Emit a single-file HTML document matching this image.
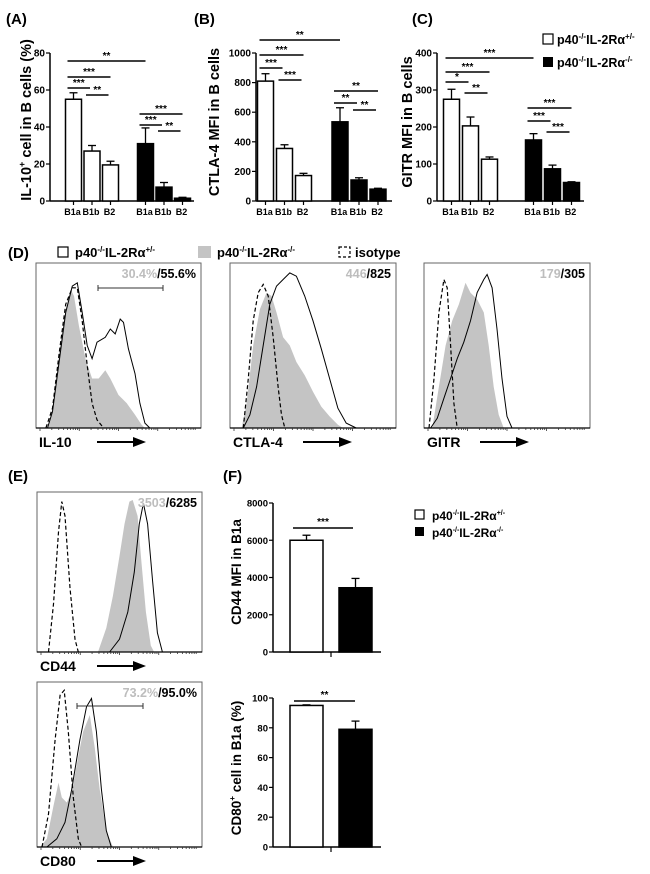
<!DOCTYPE html>
<html><head><meta charset="utf-8"><style>
html,body{margin:0;padding:0;background:#fff}
svg{display:block;font-family:"Liberation Sans",Arial,sans-serif;font-weight:bold}
</style></head><body>
<svg id="fig" width="650" height="874" viewBox="0 0 650 874" xmlns="http://www.w3.org/2000/svg">
<g font-size="15">
<text x="6" y="24">(A)</text>
<text x="194" y="24">(B)</text>
<text x="412" y="24">(C)</text>
<text x="8" y="258">(D)</text>
<text x="8" y="481">(E)</text>
<text x="223" y="481">(F)</text>
</g>
<g font-size="12.5">
<rect x="543" y="34" width="10" height="10" fill="#fff" stroke="#000" stroke-width="1.2"/>
<text x="557" y="44">p40<tspan font-size="8" dy="-5">-/-</tspan><tspan dy="5">IL-2Rα</tspan><tspan font-size="8" dy="-5">+/-</tspan></text>
<rect x="543" y="57" width="10" height="10" fill="#000"/>
<text x="557" y="67">p40<tspan font-size="8" dy="-5">-/-</tspan><tspan dy="5">IL-2Rα</tspan><tspan font-size="8" dy="-5">-/-</tspan></text>
</g>
<g font-size="13">
<rect x="58" y="247" width="10" height="10" fill="#fff" stroke="#000" stroke-width="1.2"/>
<text x="75" y="257">p40<tspan font-size="8" dy="-5">-/-</tspan><tspan dy="5">IL-2Rα</tspan><tspan font-size="8" dy="-5">+/-</tspan></text>
<rect x="198" y="246" width="13" height="12" fill="#c4c4c4"/>
<text x="217" y="257">p40<tspan font-size="8" dy="-5">-/-</tspan><tspan dy="5">IL-2Rα</tspan><tspan font-size="8" dy="-5">-/-</tspan></text>
<rect x="339" y="247" width="11" height="10" fill="none" stroke="#000" stroke-width="1.2" stroke-dasharray="3,2"/>
<text x="355" y="257">isotype</text>
</g>
<g font-size="12">
<rect x="415" y="510" width="9" height="9" fill="#fff" stroke="#000" stroke-width="1.2"/>
<text x="432" y="520">p40<tspan font-size="7" dy="-5">-/-</tspan><tspan dy="5">IL-2Rα</tspan><tspan font-size="7" dy="-5">+/-</tspan></text>
<rect x="415" y="527" width="9" height="9" fill="#000"/>
<text x="432" y="537">p40<tspan font-size="7" dy="-5">-/-</tspan><tspan dy="5">IL-2Rα</tspan><tspan font-size="7" dy="-5">-/-</tspan></text>
</g>
<g id="charts"></g>
</svg>
<script>
// ---- data: bar charts ----
const groupCats = ["B1a","B1b","B2"];
const aHet = [55, 27, 19.5];
const aHetErr = [58.5, 30, 21.5];
const aKo = [31, 7.5, 1.5];
const aKoErr = [39.5, 10, 2];
const aTicks = [0,20,40,60,80];
const bHet = [810, 355, 172];
const bHetErr = [860, 380, 187];
const bKo = [535, 142, 80];
const bKoErr = [630, 157, 86];
const bTicks = [0,200,400,600,800,1000];
const cHet = [275, 203, 113];
const cHetErr = [302, 227, 119];
const cKo = [165, 87, 50];
const cKoErr = [182, 97, 52];
const cTicks = [0,100,200,300,400];
const fCats = ["het","ko"];
const fCd44 = [6000, 3450];
const fCd44Err = [6270, 3950];
const fCd44Ticks = [0,2000,4000,6000,8000];
const fCd80 = [95, 79];
const fCd80Err = [95.4, 84.5];
const fCd80Ticks = [0,20,40,60,80,100];
const aSig = [[0,3,"**"],[0,2,"***"],[0,1,"***"],[1,2,"**"],[3,5,"***"],[3,4,"***"],[4,5,"**"]];
const bSig = [[0,3,"**"],[0,2,"***"],[0,1,"***"],[1,2,"***"],[3,5,"**"],[3,4,"**"],[4,5,"**"]];
const cSig = [[0,3,"***"],[0,2,"***"],[0,1,"*"],[1,2,"**"],[3,5,"***"],[3,4,"***"],[4,5,"***"]];
// ---- data: histograms (x = fraction of log axis, y = fraction of max) ----
const il10Ko = [[0.07,0],[0.1,0.1],[0.14,0.45],[0.18,0.72],[0.21,0.84],[0.23,0.8],[0.26,0.62],[0.3,0.42],[0.34,0.3],[0.38,0.3],[0.42,0.35],[0.45,0.3],[0.5,0.2],[0.55,0.15],[0.6,0.08],[0.64,0.02],[0.66,0]];
const il10Het = [[0.07,0],[0.1,0.1],[0.14,0.4],[0.18,0.7],[0.22,0.86],[0.25,0.88],[0.28,0.7],[0.31,0.5],[0.34,0.42],[0.37,0.52],[0.42,0.55],[0.45,0.6],[0.48,0.57],[0.51,0.66],[0.53,0.64],[0.56,0.48],[0.6,0.33],[0.63,0.15],[0.66,0.03],[0.69,0]];
const il10Iso = [[0.06,0],[0.1,0.12],[0.14,0.45],[0.18,0.75],[0.22,0.85],[0.25,0.85],[0.28,0.65],[0.31,0.38],[0.34,0.15],[0.37,0.05],[0.41,0]];
const ctlaKo = [[0.07,0],[0.1,0.15],[0.14,0.5],[0.18,0.72],[0.22,0.82],[0.25,0.8],[0.28,0.7],[0.32,0.55],[0.36,0.5],[0.4,0.4],[0.45,0.32],[0.5,0.22],[0.55,0.13],[0.6,0.07],[0.65,0.02],[0.68,0]];
const ctlaHet = [[0.08,0],[0.12,0.08],[0.16,0.25],[0.2,0.5],[0.24,0.75],[0.28,0.86],[0.32,0.9],[0.36,0.94],[0.4,0.92],[0.45,0.8],[0.5,0.65],[0.55,0.48],[0.6,0.3],[0.65,0.12],[0.7,0.03],[0.76,0]];
const ctlaIso = [[0.08,0],[0.11,0.3],[0.14,0.65],[0.17,0.82],[0.2,0.87],[0.23,0.8],[0.26,0.55],[0.29,0.25],[0.31,0.08],[0.33,0]];
const gitrKo = [[0.05,0],[0.09,0.25],[0.13,0.5],[0.17,0.65],[0.21,0.75],[0.25,0.88],[0.28,0.82],[0.32,0.78],[0.36,0.7],[0.39,0.5],[0.42,0.25],[0.45,0.08],[0.48,0]];
const gitrHet = [[0.04,0],[0.08,0.06],[0.12,0.18],[0.16,0.3],[0.2,0.42],[0.24,0.52],[0.28,0.65],[0.32,0.82],[0.36,0.9],[0.38,0.93],[0.41,0.85],[0.44,0.6],[0.47,0.3],[0.5,0.07],[0.53,0]];
const gitrIso = [[0.03,0],[0.06,0.3],[0.09,0.7],[0.12,0.9],[0.14,0.85],[0.16,0.5],[0.18,0.15],[0.2,0]];
const cd44Ko = [[0.37,0],[0.42,0.15],[0.46,0.35],[0.5,0.6],[0.53,0.8],[0.56,0.94],[0.58,0.95],[0.61,0.85],[0.63,0.6],[0.66,0.25],[0.69,0.04],[0.71,0]];
const cd44Het = [[0.44,0],[0.5,0.08],[0.55,0.25],[0.59,0.5],[0.62,0.8],[0.645,0.93],[0.67,0.8],[0.7,0.45],[0.73,0.12],[0.76,0]];
const cd44Iso = [[0.07,0],[0.1,0.3],[0.13,0.75],[0.15,0.94],[0.17,0.85],[0.2,0.4],[0.23,0.08],[0.25,0]];
const cd80Ko = [[0.02,0],[0.06,0.05],[0.1,0.25],[0.13,0.39],[0.15,0.3],[0.18,0.27],[0.21,0.33],[0.25,0.55],[0.28,0.7],[0.32,0.8],[0.35,0.6],[0.38,0.35],[0.42,0.1],[0.46,0]];
const cd80Het = [[0.06,0],[0.12,0.05],[0.17,0.15],[0.21,0.35],[0.26,0.65],[0.3,0.85],[0.33,0.9],[0.36,0.7],[0.39,0.35],[0.42,0.1],[0.45,0]];
const cd80Iso = [[0.03,0],[0.07,0.2],[0.11,0.65],[0.14,0.92],[0.165,0.95],[0.19,0.7],[0.22,0.3],[0.25,0.05],[0.27,0]];

const NS = "http://www.w3.org/2000/svg";
const root = document.getElementById("charts");
function mk(tag, attrs, parent){
  const el = document.createElementNS(NS, tag);
  for (const k in attrs) el.setAttribute(k, attrs[k]);
  (parent||root).appendChild(el);
  return el;
}

function barChart(o){
  const g = mk("g", {});
  
  
  const yS = v => o.y0 - (v / o.max) * (o.y0 - o.yTop);
  const ya = mk("line", {x1:o.ax, x2:o.ax, y1:o.yTop, y2:o.y0, stroke:"#000", "stroke-width":1.5}, g);
  
  
  const xa = mk("line", {x1:o.ax, x2:o.axEnd, y1:o.y0, y2:o.y0, stroke:"#000", "stroke-width":1.5}, g);
  
  
  o.ticks.forEach(t => {
    const y = yS(t);
    mk("line", {x1:o.ax-4, x2:o.ax, y1:y, y2:y, stroke:"#000", "stroke-width":1.2}, g);
    const tl = mk("text", {x:o.ax-5, y:y+3.5, "text-anchor":"end", "font-size":o.tickSize||10}, g);
    tl.textContent = t;
    
    
  });
  const lab = mk("text", {transform:`translate(${o.labX},${o.labY}) rotate(-90)`, "text-anchor":"middle", "font-size":o.labSize||15}, g);
  lab.innerHTML = o.label;
  
  
  const centers = [];
  o.series.forEach((s, si) => {
    s.vals.forEach((v, i) => {
      const cx = o.x0 + si * o.groupStep + i * o.step;
      centers.push(cx);
      const top = yS(v);
      const e = mk("line", {x1:cx, x2:cx, y1:yS(s.err[i]), y2:top, stroke:"#000", "stroke-width":1.3}, g);
      
      
      mk("line", {x1:cx-4, x2:cx+4, y1:yS(s.err[i]), y2:yS(s.err[i]), stroke:"#000", "stroke-width":1.3}, g);
      const r = mk("rect", {x:cx-o.bw/2, y:top, width:o.bw, height:o.y0-top, fill:s.fill, stroke:"#000", "stroke-width":1.5}, g);
      
      
      if (o.cats.length > 1) {
        mk("line", {x1:cx, x2:cx, y1:o.y0, y2:o.y0+4, stroke:"#000", "stroke-width":1.2}, g);
        const cl = mk("text", {x:cx-1, y:o.y0+14, "text-anchor":"middle", "font-size":9}, g);
        cl.textContent = o.cats[i];
        
        
      }
    });
  });
  if (o.cats.length <= 1) {
    const mid = (centers[0] + centers[centers.length-1]) / 2;
    mk("line", {x1:mid, x2:mid, y1:o.y0, y2:o.y0+5, stroke:"#000", "stroke-width":1.2}, g);
  }
  o.sig.forEach((s, k) => {
    const y = o.sigY[k];
    const x1 = centers[s[0]] - o.bw/2 + 2, x2 = centers[s[1]] + (s[1]-s[0]>1 ? 0 : -2);
    const l = mk("line", {x1:x1, x2:x2, y1:y, y2:y, stroke:"#000", "stroke-width":1.5}, g);
    
    
    const st = mk("text", {x:(x1+x2)/2, y:y-2, "text-anchor":"middle", "font-size":10}, g);
    st.textContent = s[2];
    
    
  });
}

barChart({name:"chart-a", ax:50, axEnd:194, y0:201, yTop:53, max:80, ticks:aTicks, cats:groupCats,
  x0:73.5, step:18.5, groupStep:72, bw:16, label:"IL-10<tspan font-size='9' dy='-6'>+</tspan><tspan dy='6'> cell in B cells (%)</tspan>", labX:31, labY:120, labSize:14.5,
  series:[{key:"het", vals:aHet, err:aHetErr, fill:"#fff"},{key:"ko", vals:aKo, err:aKoErr, fill:"#000"}],
  sig:aSig, sigY:[61,77,88,95,114,125,131]});
barChart({name:"chart-b", ax:256, axEnd:392, y0:201, yTop:53, max:1000, ticks:bTicks, cats:groupCats,
  x0:265.5, step:19, groupStep:74.5, bw:16, label:"CTLA-4 MFI in B cells", labX:219, labY:122, labSize:14.5,
  series:[{key:"het", vals:bHet, err:bHetErr, fill:"#fff"},{key:"ko", vals:bKo, err:bKoErr, fill:"#000"}],
  sig:bSig, sigY:[40,55,68,80,91,103,110]});
barChart({name:"chart-c", ax:437, axEnd:584, y0:201, yTop:53, max:400, ticks:cTicks, cats:groupCats,
  x0:451.5, step:19, groupStep:82, bw:16, label:"GITR MFI in B cells", labX:412, labY:122, labSize:14.5,
  series:[{key:"het", vals:cHet, err:cHetErr, fill:"#fff"},{key:"ko", vals:cKo, err:cKoErr, fill:"#000"}],
  sig:cSig, sigY:[58,72,82,93,108,121,132]});
barChart({name:"chart-f-cd44", ax:273, axEnd:381, y0:652, yTop:503, max:8000, ticks:fCd44Ticks, cats:["B1a"],
  x0:306.5, step:0, groupStep:49, bw:33, label:"CD44  MFI in B1a", labX:241, labY:572, labSize:13.5, tickSize:9.5,
  series:[{key:"het", vals:[fCd44[0]], err:[fCd44Err[0]], fill:"#fff"},{key:"ko", vals:[fCd44[1]], err:[fCd44Err[1]], fill:"#000"}],
  sig:[], sigY:[]});
barChart({name:"chart-f-cd80", ax:273, axEnd:381, y0:847, yTop:698, max:100, ticks:fCd80Ticks, cats:["B1a"],
  x0:306.5, step:0, groupStep:49, bw:33, label:"CD80<tspan font-size='8' dy='-6'>+</tspan><tspan dy='6'> cell  in B1a (%)</tspan>", labX:241, labY:768, labSize:13.5, tickSize:9.5,
  series:[{key:"het", vals:[fCd80[0]], err:[fCd80Err[0]], fill:"#fff"},{key:"ko", vals:[fCd80[1]], err:[fCd80Err[1]], fill:"#000"}],
  sig:[], sigY:[]});
[[528,"***",293,353],[701,"**",294,355]].forEach(s => {
  const l = mk("line", {x1:s[2], x2:s[3], y1:s[0], y2:s[0], stroke:"#000", "stroke-width":1.5});
  
  
  const t = mk("text", {x:(s[2]+s[3])/2, y:s[0]-3, "text-anchor":"middle", "font-size":10});
  t.textContent = s[1];
  
  
});

function histo(o){
  const g = mk("g", {});
  
  
  const h = o.bottom - o.top, w = o.right - o.left;
  const X = f => o.left + f * w, Y = f => o.bottom - f * h;
  const path = (pts) => pts.map((p,i) => (i?"L":"M") + X(p[0]).toFixed(1) + "," + Y(p[1]).toFixed(1)).join(" ");
  const gray = mk("path", {d:path(o.ko) + " Z", fill:"#c4c4c4", stroke:"none"}, g);
  
  
  const iso = mk("path", {d:path(o.iso), fill:"none", stroke:"#000", "stroke-width":1.2, "stroke-dasharray":"4,2.5"}, g);
  
  
  const het = mk("path", {d:path(o.het), fill:"none", stroke:"#000", "stroke-width":1}, g);
  
  
  const box = mk("rect", {x:o.left, y:o.top, width:w, height:h, fill:"none", stroke:"#666", "stroke-width":1}, g);
  
  
  mk("line", {x1:o.left, x2:o.right, y1:o.bottom, y2:o.bottom, stroke:"#000", "stroke-width":1.2}, g);
  for (let d = 0; d < 4; d++) {
    for (let m = 1; m <= 9; m++) {
      const f = (d + Math.log10(m)) / 4;
      const x = o.left + 4 + f * (w - 8);
      mk("line", {x1:x, x2:x, y1:o.bottom, y2:o.bottom + (m===1?3:2), stroke:"#333", "stroke-width":0.8}, g);
    }
  }
  const ann = mk("text", {x:o.right-5, y:o.top+15, "text-anchor":"end", "font-size":12.5}, g);
  ann.innerHTML = `<tspan fill="#bdbdbd">${o.annGray}</tspan>/${o.annBlack}`;
  
  
  if (o.gate) {
    const gy = o.gate[2];
    mk("line", {x1:o.gate[0], x2:o.gate[1], y1:gy, y2:gy, stroke:"#333", "stroke-width":1}, g);
    mk("line", {x1:o.gate[0], x2:o.gate[0], y1:gy-3, y2:gy+3, stroke:"#333", "stroke-width":1}, g);
    mk("line", {x1:o.gate[1], x2:o.gate[1], y1:gy-3, y2:gy+3, stroke:"#333", "stroke-width":1}, g);
  }
  const lab = mk("text", {x:o.left+3, y:o.bottom+19, "font-size":14}, g);
  lab.textContent = o.label;
  
  
  const ax = o.arrowX;
  mk("line", {x1:ax, x2:ax+38, y1:o.bottom+14, y2:o.bottom+14, stroke:"#000", "stroke-width":2}, g);
  const ar = mk("polygon", {points:`${ax+36},${o.bottom+9} ${ax+49},${o.bottom+14} ${ax+36},${o.bottom+19}`, fill:"#000"}, g);
  
  
}

histo({name:"histogram-il10", left:36, right:201, top:263, bottom:428, ko:il10Ko, het:il10Het, iso:il10Iso, annGray:"30.4%", annBlack:"55.6%", gate:[98,163,288], label:"IL-10", arrowX:97});
histo({name:"histogram-ctla4", left:230, right:396, top:263, bottom:428, ko:ctlaKo, het:ctlaHet, iso:ctlaIso, annGray:"446", annBlack:"825", label:"CTLA-4", arrowX:303});
histo({name:"histogram-gitr", left:424, right:590, top:263, bottom:428, ko:gitrKo, het:gitrHet, iso:gitrIso, annGray:"179", annBlack:"305", label:"GITR", arrowX:480});
histo({name:"histogram-cd44", left:37, right:202, top:492, bottom:652, ko:cd44Ko, het:cd44Het, iso:cd44Iso, annGray:"3503", annBlack:"6285", label:"CD44", arrowX:97});
histo({name:"histogram-cd80", left:37, right:202, top:682, bottom:847, ko:cd80Ko, het:cd80Het, iso:cd80Iso, annGray:"73.2%", annBlack:"95.0%", gate:[77,143,706], label:"CD80", arrowX:97});
</script>
</body></html>
